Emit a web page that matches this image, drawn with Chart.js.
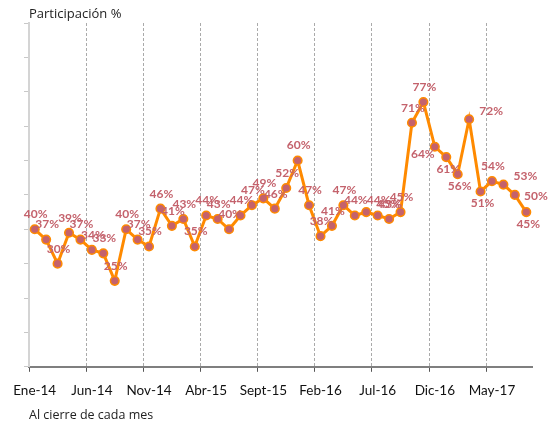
<!DOCTYPE html>
<html>
<head>
<meta charset="utf-8">
<script src="https://cdn.jsdelivr.net/npm/chart.js@4/dist/chart.umd.min.js"></script>
<style>
  html, body { margin: 0; padding: 0; background: #fff; }
  canvas { display: block; }
</style>
</head>
<body>
<canvas id="chart" width="549" height="423"></canvas>
<script>
const months = [
  "Ene-14", "Feb-14", "Mar-14", "Abr-14", "May-14", "Jun-14", "Jul-14", "Ago-14", "Sept-14", "Oct-14", "Nov-14", "Dic-14",
  "Ene-15", "Feb-15", "Mar-15", "Abr-15", "May-15", "Jun-15", "Jul-15", "Ago-15", "Sept-15", "Oct-15", "Nov-15", "Dic-15",
  "Ene-16", "Feb-16", "Mar-16", "Abr-16", "May-16", "Jun-16", "Jul-16", "Ago-16", "Sept-16", "Oct-16", "Nov-16", "Dic-16",
  "Ene-17", "Feb-17", "Mar-17", "Abr-17", "May-17", "Jun-17", "Jul-17", "Ago-17",
];
const participacion = [
  40, 37, 30, 39, 37, 34, 33, 25, 40, 37, 35, 46,
  41, 43, 35, 44, 43, 40, 44, 47, 49, 46, 52, 60,
  47, 38, 41, 47, 44, 45, 44, 43, 45, 71, 77, 64,
  61, 56, 72, 51, 54, 53, 50, 45,
];
const yTicks = [0, 10, 20, 30, 40, 50, 60, 70, 80, 90, 100];

// where each value label sits relative to its point (default: above)
const labelPlacement = {
  29: "upright", 35: "downleft", 36: "below", 37: "below", 38: "upright",
  39: "below", 41: "upright", 42: "right", 43: "below",
};
const placementOffset = {
  above: [1, -15],
  below: [2, 12],
  right: [21, 1],
  upright: [22, -8],
  downleft: [-12, 7],
};

const pointColor = "#c4626c";
const lineColor = "#ff8a00";

const valueLabels = {
  id: "valueLabels",
  afterDatasetsDraw(chart) {
    const ctx = chart.ctx;
    const meta = chart.getDatasetMeta(0);
    ctx.save();
    ctx.font = "bold 12px Lato";
    ctx.fillStyle = pointColor;
    ctx.textAlign = "center";
    ctx.textBaseline = "middle";
    meta.data.forEach((pt, i) => {
      const off = placementOffset[labelPlacement[i] || "above"];
      ctx.fillText(participacion[i] + "%", pt.x + off[0], pt.y + off[1]);
    });
    ctx.restore();
  },
};

const topTitle = {
  id: "topTitle",
  afterDraw(chart) {
    const ctx = chart.ctx;
    ctx.save();
    ctx.font = "13px 'Open Sans'";
    ctx.fillStyle = "#222";
    ctx.textAlign = "left";
    ctx.textBaseline = "middle";
    ctx.fillText("Participación %", chart.chartArea.left, 14);
    ctx.restore();
  },
};

const every5 = (i) => i % 5 === 0;

new Chart(document.getElementById("chart"), {
  type: "line",
  data: {
    labels: months,
    datasets: [
      {
        data: participacion,
        borderColor: lineColor,
        borderWidth: 3,
        tension: 0,
        pointRadius: 4.3,
        pointBorderWidth: 1.5,
        pointBorderColor: lineColor,
        pointBackgroundColor: pointColor,
      },
    ],
  },
  options: {
    responsive: false,
    animation: false,
    layout: { padding: { top: 23, left: 24, right: 17, bottom: 0 } },
    plugins: {
      legend: { display: false },
      tooltip: { enabled: false },
    },
    scales: {
      x: {
        offset: true,
        grid: {
          offset: true,
          color: (c) => (every5(c.index) && c.index > 0 && c.index < months.length ? "#aaaaaa" : "transparent"),
          tickColor: (c) => (every5(c.index) && c.index < months.length ? "#555555" : "transparent"),
          lineWidth: 1,
          tickLength: 5,
        },
        border: { color: "#7f7f7f", width: 2, dash: [3, 2] },
        ticks: {
          autoSkip: false,
          maxRotation: 0,
          padding: 11,
          color: "#111",
          font: { family: "Lato", size: 13.5 },
          callback: (v, i) => (every5(i) ? months[i] : ""),
        },
        title: {
          display: true,
          text: "Al cierre de cada mes",
          align: "start",
          color: "#222",
          font: { family: "Open Sans", size: 12.5 },
          padding: { top: -2, bottom: 0 },
        },
      },
      y: {
        min: 0,
        max: 100,
        afterBuildTicks: (scale) => {
          scale.ticks = yTicks.map((v) => ({ value: v }));
        },
        grid: {
          drawOnChartArea: false,
          tickLength: 5,
          tickColor: "#c8c8c8",
        },
        border: { color: "#d4d4d4", width: 2 },
        ticks: { display: false },
      },
    },
  },
  plugins: [valueLabels, topTitle],
});
</script>
</body>
</html>
